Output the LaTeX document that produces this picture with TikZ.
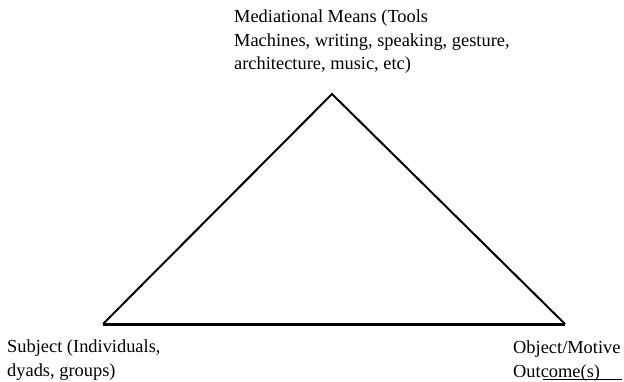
\documentclass[tikz,border=0pt]{standalone}
\usepackage{fontspec}
\setmainfont{Liberation Serif}
\begin{document}
\begin{tikzpicture}[x=1pt,y=-1pt,
  lbl/.style={anchor=base west,inner sep=0pt,align=left,font=\fontsize{18.4}{23.3}\selectfont},
  side/.style={line width=2pt,line join=miter},
  base/.style={line width=3pt},
  uline/.style={line width=1.3pt}]
\useasboundingbox (0,0) rectangle (624,381);
\coordinate (apex) at (332,94);
\coordinate (left) at (103,324);
\coordinate (right) at (565,324);
\draw[side] (left) -- (apex) -- (right);
\draw[base] (left) -- (right);
\node[lbl] (mm) at (234,69.5) {Mediational Means (Tools\\Machines, writing, speaking, gesture,\\architecture, music, etc)};
\node[lbl] (subj) at (7,376) {Subject (Individuals,\\dyads, groups)};
\node[lbl] (obj) at (513,377) {Object/Motive\\Outcome(s)};
\coordinate (u1) at (543,379.3);
\coordinate (u2) at (622,379.3);
\draw[uline] (u1) -- (u2);
\end{tikzpicture}
\end{document}
